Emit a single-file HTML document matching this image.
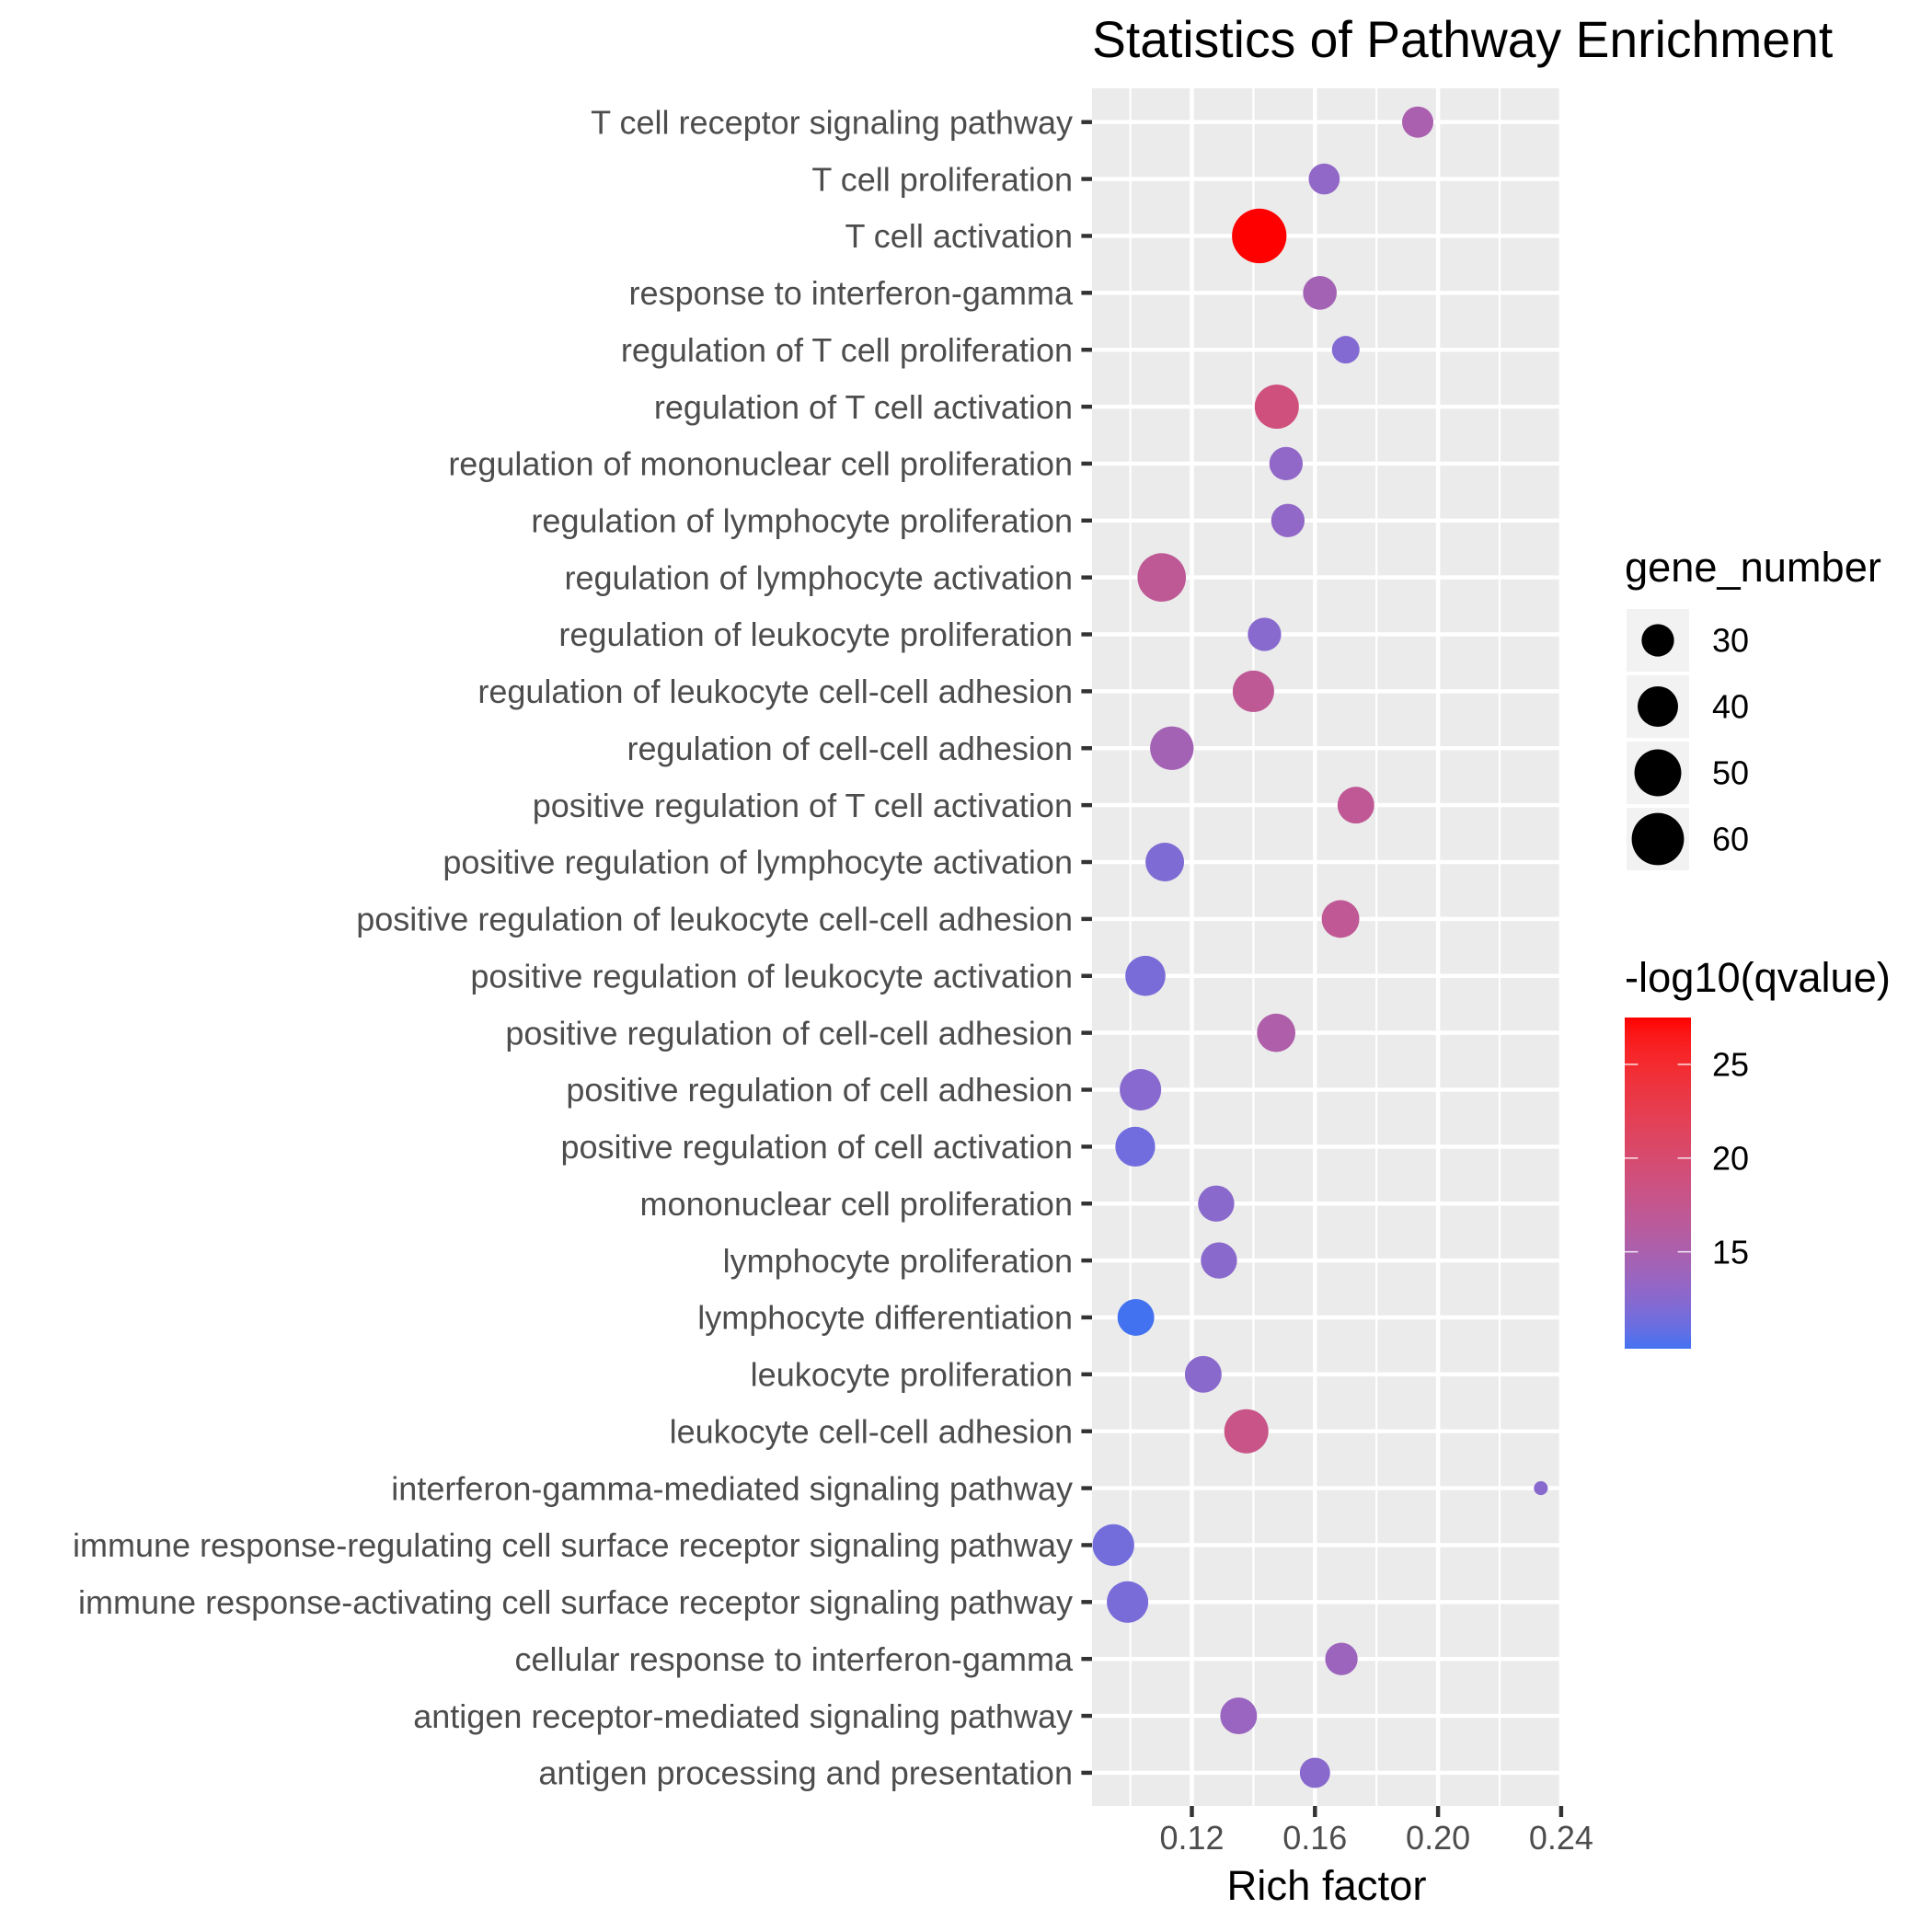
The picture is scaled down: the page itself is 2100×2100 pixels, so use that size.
<!DOCTYPE html>
<html>
<head>
<meta charset="utf-8">
<title>Statistics of Pathway Enrichment</title>
<style>
html,body{margin:0;padding:0;background:#fff;width:2100px;height:2100px;overflow:hidden}
svg{display:block;font-family:"Liberation Sans",Arial,sans-serif}
</style>
</head>
<body>
<svg id="chart" xmlns="http://www.w3.org/2000/svg" width="2100" height="2100" viewBox="0 0 2100 2100">
  <defs>
    <clipPath id="panel-clip"><rect x="1187" y="96" width="508" height="1867"></rect></clipPath>
    <linearGradient id="cbar-gradient" x1="0" y1="1" x2="0" y2="0"></linearGradient>
  </defs>
  <rect x="0" y="0" width="2100" height="2100" fill="#ffffff"></rect>
  <text x="1187" y="62" font-size="55.3" fill="#000">Statistics of Pathway Enrichment</text>
  <rect x="1187" y="96" width="508" height="1867" fill="#EBEBEB"></rect>
  <g id="grid" clip-path="url(#panel-clip)"></g>
  <g id="y-axis"></g>
  <g id="x-axis"></g>
  <g id="points"></g>
  <text x="1442" y="2065" font-size="45.4" text-anchor="middle" fill="#000">Rich factor</text>
  <text x="1766" y="632" font-size="45.2" fill="#000">gene_number</text>
  <g id="size-legend"></g>
  <text x="1766" y="1078" font-size="45.2" fill="#000">-log10(qvalue)</text>
  <rect x="1766" y="1106" width="72" height="360" fill="url(#cbar-gradient)"></rect>
  <g id="color-legend"></g>
</svg>
<script>
const categories = [
  "T cell receptor signaling pathway",
  "T cell proliferation",
  "T cell activation",
  "response to interferon-gamma",
  "regulation of T cell proliferation",
  "regulation of T cell activation",
  "regulation of mononuclear cell proliferation",
  "regulation of lymphocyte proliferation",
  "regulation of lymphocyte activation",
  "regulation of leukocyte proliferation",
  "regulation of leukocyte cell-cell adhesion",
  "regulation of cell-cell adhesion",
  "positive regulation of T cell activation",
  "positive regulation of lymphocyte activation",
  "positive regulation of leukocyte cell-cell adhesion",
  "positive regulation of leukocyte activation",
  "positive regulation of cell-cell adhesion",
  "positive regulation of cell adhesion",
  "positive regulation of cell activation",
  "mononuclear cell proliferation",
  "lymphocyte proliferation",
  "lymphocyte differentiation",
  "leukocyte proliferation",
  "leukocyte cell-cell adhesion",
  "interferon-gamma-mediated signaling pathway",
  "immune response-regulating cell surface receptor signaling pathway",
  "immune response-activating cell surface receptor signaling pathway",
  "cellular response to interferon-gamma",
  "antigen receptor-mediated signaling pathway",
  "antigen processing and presentation"
];
const richFactor = [0.1934,0.1630,0.1419,0.1616,0.1700,0.1476,0.1506,0.1512,0.1102,0.1436,0.1400,0.1135,0.1733,0.1112,0.1683,0.1049,0.1474,0.1033,0.1016,0.1279,0.1288,0.1018,0.1237,0.1377,0.2334,0.0945,0.0991,0.1686,0.1352,0.1600];
const geneNumber = [28.75,28.5,64.5,31.4,25.3,45.6,31,31,52.9,31,41.4,44.6,35,37.5,36.2,39.6,37.1,41.4,39.1,34.3,34.3,35,35,45.6,17.7,41.8,41.4,30,35,27.8];
const qValue = [14.9,13.0,27.5,14.4,12.2,19.0,13.0,13.0,16.9,12.5,16.9,14.4,17.0,12.0,17.0,11.7,15.4,12.4,11.3,12.6,12.6,9.83,12.6,18.0,12.5,11.4,11.7,13.8,13.6,12.6];
const xTickValues = [0.12,0.16,0.20,0.24];
const xTickLabels = ["0.12","0.16","0.20","0.24"];
const xMinorValues = [0.10,0.14,0.18,0.22];
const sizeLegendValues = [30,40,50,60];
const colorTickValues = [15,20,25];
const colorDomain = [9.83,27.5];

const SVGNS = "http://www.w3.org/2000/svg";
function xScale(v){ return 1295.5 + (v - 0.12) * 3345; }
function yScale(i){ return 132.7 + i * 61.87; }
function diameter(n){ return 9 + 50 * Math.sqrt(Math.max(0, (n - 17) / 47)); }
function colorY(q){ return 1466 - (q - colorDomain[0]) / (colorDomain[1] - colorDomain[0]) * 360; }

function toLab(c){
  const f = c.map(function(v){ v /= 255; return v > 0.04045 ? Math.pow((v + 0.055) / 1.055, 2.4) : v / 12.92; });
  const X = (0.4124 * f[0] + 0.3576 * f[1] + 0.1805 * f[2]) / 0.95047;
  const Y = 0.2126 * f[0] + 0.7152 * f[1] + 0.0722 * f[2];
  const Z = (0.0193 * f[0] + 0.1192 * f[1] + 0.9505 * f[2]) / 1.08883;
  const g = function(t){ return t > 0.008856 ? Math.cbrt(t) : 7.787 * t + 16 / 116; };
  return [116 * g(Y) - 16, 500 * (g(X) - g(Y)), 200 * (g(Y) - g(Z))];
}
function fromLab(l){
  const fy = (l[0] + 16) / 116, fx = l[1] / 500 + fy, fz = fy - l[2] / 200;
  const h = function(t){ return t * t * t > 0.008856 ? t * t * t : (t - 16 / 116) / 7.787; };
  const X = h(fx) * 0.95047, Y = h(fy), Z = h(fz) * 1.08883;
  const lin = [3.2406 * X - 1.5372 * Y - 0.4986 * Z, -0.9689 * X + 1.8758 * Y + 0.0415 * Z, 0.0557 * X - 0.2040 * Y + 1.0570 * Z];
  const out = lin.map(function(v){
    v = Math.max(0, Math.min(1, v));
    v = v > 0.0031308 ? 1.055 * Math.pow(v, 1 / 2.4) - 0.055 : 12.92 * v;
    return Math.round(v * 255);
  });
  return "rgb(" + out.join(",") + ")";
}
const labLow = toLab([67,114,241]);
const labHigh = toLab([255,0,0]);
function colorAt(t){
  return fromLab([0,1,2].map(function(k){ return labLow[k] + (labHigh[k] - labLow[k]) * t; }));
}
function colorScale(q){
  const t = (q - colorDomain[0]) / (colorDomain[1] - colorDomain[0]);
  return colorAt(Math.max(0, Math.min(1, t)));
}
function make(tag, attrs, parent){
  const el = document.createElementNS(SVGNS, tag);
  Object.keys(attrs).forEach(function(k){ el.setAttribute(k, attrs[k]); });
  parent.appendChild(el);
  return el;
}

const grid = document.getElementById("grid");
const yAxis = document.getElementById("y-axis");
const xAxis = document.getElementById("x-axis");
const pointsG = document.getElementById("points");
const sizeG = document.getElementById("size-legend");
const colorG = document.getElementById("color-legend");

xMinorValues.forEach(function(v){
  const l = make("line", {x1:xScale(v), x2:xScale(v), y1:96, y2:1963, stroke:"#fff", "stroke-width":2.2}, grid);
  
  
});
xTickValues.forEach(function(v, i){
  const l = make("line", {x1:xScale(v), x2:xScale(v), y1:96, y2:1963, stroke:"#fff", "stroke-width":4.45}, grid);
  
  
  const t = make("line", {x1:xScale(v), x2:xScale(v), y1:1963, y2:1975, stroke:"#333", "stroke-width":4.45}, xAxis);
  
  
  const lab = make("text", {x:xScale(v), y:2010, "font-size":36, "text-anchor":"middle", fill:"#4D4D4D"}, xAxis);
  
  
  lab.textContent = xTickLabels[i];
});
categories.forEach(function(name, i){
  const y = yScale(i);
  const g = make("line", {x1:1187, x2:1695, y1:y, y2:y, stroke:"#fff", "stroke-width":4.45}, grid);
  
  
  const t = make("line", {x1:1175.4, x2:1187, y1:y, y2:y, stroke:"#333", "stroke-width":4.45}, yAxis);
  
  
  const lab = make("text", {x:1166, y:y + 12.7, "font-size":36.03, "text-anchor":"end", fill:"#4D4D4D"}, yAxis);
  
  
  lab.textContent = name;
});
categories.forEach(function(name, i){
  const c = make("circle", {cx:xScale(richFactor[i]), cy:yScale(i), r:diameter(geneNumber[i]) / 2, fill:colorScale(qValue[i])}, pointsG);
  
  
});

sizeLegendValues.forEach(function(n, i){
  const cy = 696 + i * 72;
  const k = make("rect", {x:1768, y:cy - 34, width:68, height:68, fill:"#F2F2F2"}, sizeG);
  
  
  const c = make("circle", {cx:1802, cy:cy, r:diameter(n) / 2, fill:"#000"}, sizeG);
  
  
  const t = make("text", {x:1861, y:cy + 12.7, "font-size":36, fill:"#000"}, sizeG);
  
  
  t.textContent = String(n);
});

const grad = document.getElementById("cbar-gradient");
for (let s = 0; s <= 20; s++) {
  const stop = make("stop", {offset:(s / 20), "stop-color":colorAt(s / 20)}, grad);
}
colorTickValues.forEach(function(q){
  const y = colorY(q);
  const a = make("line", {x1:1766, x2:1780.4, y1:y, y2:y, stroke:"#fff", "stroke-opacity":0.85, "stroke-width":1.5}, colorG);
  
  
  const b = make("line", {x1:1823.6, x2:1838, y1:y, y2:y, stroke:"#fff", "stroke-opacity":0.85, "stroke-width":1.5}, colorG);
  
  
  const t = make("text", {x:1861, y:y + 12.7, "font-size":36, fill:"#000"}, colorG);
  
  
  t.textContent = String(q);
});
</script>
</body>
</html>
